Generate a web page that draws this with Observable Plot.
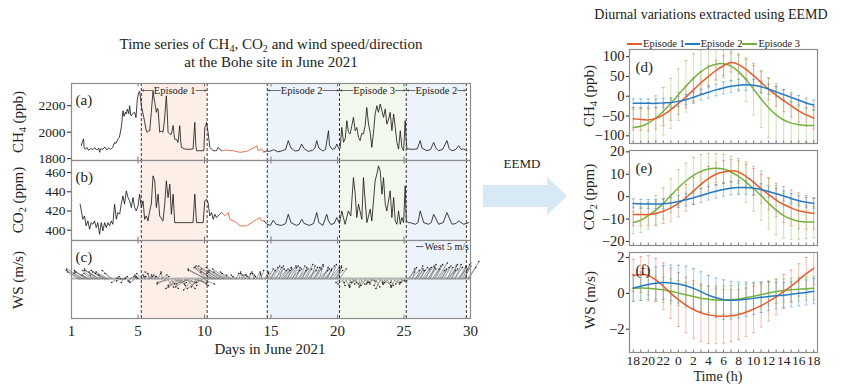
<!DOCTYPE html>
<html><head><meta charset="utf-8">
<script src="https://cdn.jsdelivr.net/npm/d3@7"></script>
<script src="https://cdn.jsdelivr.net/npm/@observablehq/plot@0.6"></script>
<style>
body{margin:0;background:#fff;}
#root{position:relative;width:841px;height:384px;overflow:hidden;font-family:"Liberation Serif",serif;color:#222;}
#root svg, #root svg text{font-family:"Liberation Serif",serif !important;}
.abs{position:absolute;white-space:nowrap;line-height:1;}
.rot{transform:translate(-50%,-50%) rotate(-90deg);}
.ctr{transform:translate(-50%,-50%);}
sub{font-size:0.68em;vertical-align:-0.3em;line-height:0}
.lg{display:inline-flex;align-items:center;font-size:10.5px;}
.lg i{display:inline-block;width:15px;height:1.6px;margin:0 1px 0 0;}
</style></head><body><div id="root"></div>
<script>
// ---------------- DATA ----------------
const dayTicks = [0, 5, 10, 15, 20, 25, 30];
const dayTickLabels = ["1", "5", "10", "15", "20", "25", "30"];
const episodeNames = ["Episode 1", "Episode 2", "Episode 3", "Episode 2"];
const episodeStart = [5.25, 14.72, 20.15, 25.17];
const episodeEnd = [10.2, 20.15, 25.17, 29.69];
const episodeLabelAt = [7.76, 17.3, 22.75, 27.43];
const episodeFill = ["#fdeee8", "#edf3fa", "#f3f8ec", "#edf3fa"];

// CH4 (ppb) [day, value]
const ch4Part1 = [[0.73,1898],[0.8,1920],[0.9,1949],[0.95,1880],[1.05,1870],[1.15,1885],[1.3,1862],[1.45,1878],[1.6,1868],[1.75,1882],[1.9,1865],[2.05,1880],[2.11,1848],[2.2,1875],[2.35,1870],[2.5,1888],[2.65,1866],[2.8,1880],[2.95,1870],[3.1,1885],[3.24,1923],[3.35,1915],[3.49,1948],[3.6,1960],[3.75,2040],[3.87,2162],[3.95,2120],[4.05,2150],[4.12,2137],[4.2,2175],[4.3,2140],[4.37,2200],[4.45,2130],[4.5,2124],[4.6,2140],[4.75,2150],[4.85,2110],[4.95,2250],[5.05,2300],[5.12,2310],[5.2,2250],[5.25,2200],[5.38,2137],[5.5,2080],[5.6,2020],[5.68,1999],[5.8,2010],[5.88,2010],[6.0,2150],[6.13,2310],[6.2,2260],[6.26,2225],[6.38,2150],[6.45,2180],[6.51,2175],[6.63,2000],[6.75,2010],[6.88,1999],[7.0,2100],[7.13,2275],[7.2,2150],[7.26,2000],[7.4,1985],[7.51,1986],[7.64,2050],[7.7,1990],[7.76,1948],[7.9,1945],[8.01,1923],[8.14,2049],[8.2,1950],[8.26,1885],[8.52,1873],[8.8,1870],[9.14,1873],[9.27,2074],[9.35,1900],[9.4,1860],[9.65,1860],[9.95,1860],[10.02,2037],[10.1,2050],[10.15,2074],[10.27,2000],[10.4,1885],[10.65,1860],[10.9,1860],[11.03,1885],[11.15,1870],[11.28,1860]];
const ch4Gap = [[11.28,1860],[11.66,1865],[12.16,1860],[12.66,1848],[13.16,1855],[13.54,1873],[13.79,1885],[13.91,1898],[14.04,1860],[14.29,1873],[14.47,1850]];
const ch4Part2 = [[14.47,1850],[14.6,1858],[14.9,1855],[15.2,1868],[15.5,1852],[15.8,1858],[16.1,1870],[16.3,1936],[16.5,1880],[16.8,1858],[17.1,1862],[17.3,1910],[17.5,1875],[17.8,1855],[18.1,1862],[18.3,1880],[18.44,1936],[18.6,1880],[18.9,1858],[19.1,1870],[19.32,2011],[19.4,1900],[19.6,1870],[19.8,1875],[19.95,1910],[20.1,1875],[20.2,1880],[20.32,2036],[20.45,1923],[20.58,1950],[20.7,2087],[20.82,2000],[20.95,1986],[21.08,2050],[21.2,2112],[21.33,2011],[21.45,2036],[21.58,1960],[21.7,1936],[21.82,1990],[21.95,1986],[22.08,2050],[22.2,2187],[22.33,2062],[22.46,1999],[22.58,1885],[22.7,1990],[22.83,2137],[22.96,2200],[23.08,2150],[23.21,2213],[23.34,2162],[23.46,2112],[23.59,2175],[23.71,2062],[23.85,2100],[23.96,2150],[24.09,2011],[24.22,2137],[24.34,2036],[24.47,1923],[24.59,1873],[24.72,2011],[24.84,1885],[24.97,1860],[25.09,2087],[25.15,1961],[25.22,1873],[25.35,1873],[25.72,1870],[26.0,1875],[26.22,1936],[26.35,1880],[26.48,1873],[26.73,1860],[27.0,1870],[27.23,1923],[27.4,1880],[27.61,1860],[27.9,1870],[28.23,1936],[28.4,1875],[28.61,1860],[28.9,1870],[29.11,1898],[29.3,1870],[29.49,1873],[29.74,1860]];

// CO2 (ppm) [day, value]
const co2Part1 = [[0.65,427.1],[0.85,411.4],[0.98,414.9],[1.1,404.5],[1.23,409.7],[1.36,401.0],[1.48,407.9],[1.61,406.2],[1.73,409.7],[1.86,402.8],[1.98,407.9],[2.11,395.8],[2.24,407.9],[2.36,399.3],[2.49,407.9],[2.61,402.8],[2.74,407.9],[2.86,404.5],[2.99,409.7],[3.11,406.2],[3.24,427.1],[3.37,411.4],[3.49,418.4],[3.62,416.6],[3.74,427.1],[3.87,435.7],[3.99,427.1],[4.12,441.0],[4.25,434.0],[4.37,430.5],[4.5,423.6],[4.62,434.0],[4.75,423.6],[4.87,420.1],[5.0,425.3],[5.12,437.5],[5.25,423.6],[5.38,430.5],[5.5,411.4],[5.63,414.9],[5.75,409.7],[5.88,420.1],[6.0,427.1],[6.13,456.6],[6.26,451.4],[6.38,423.6],[6.51,437.5],[6.63,414.9],[6.88,409.7],[7.01,427.1],[7.13,451.4],[7.26,434.0],[7.39,447.9],[7.51,416.6],[7.64,437.5],[7.76,407.9],[7.89,407.9],[8.5,407.9],[9.14,407.9],[9.27,437.5],[9.4,407.9],[9.9,407.9],[10.02,430.5],[10.15,432.3],[10.27,428.8],[10.4,414.9],[10.53,418.4],[10.65,411.4],[10.78,416.6],[10.9,413.2],[11.15,416.6],[11.28,418.4]];
const co2Gap = [[11.28,418.4],[11.53,414.9],[11.78,418.4],[11.91,411.4],[12.16,409.7],[12.41,407.9],[12.66,404.5],[13.16,404.5],[13.54,407.9],[13.92,411.4],[14.17,413.2],[14.29,409.7],[14.47,409.7]];
const co2Part2 = [[14.47,409.7],[14.7,406.2],[14.95,405],[15.17,410.4],[15.4,406],[15.8,405],[16.1,407],[16.3,416.6],[16.5,408],[16.9,405],[17.1,406],[17.31,411.4],[17.5,407],[17.9,405],[18.2,407],[18.44,418.4],[18.6,408],[18.9,405],[19.19,416.6],[19.32,409.7],[19.5,406],[19.75,407],[19.95,413.2],[20.15,407],[20.32,420.1],[20.57,406.2],[20.82,420.1],[21.0,415],[21.2,454.8],[21.33,437.5],[21.45,413.2],[21.58,427.1],[21.83,411.4],[21.95,454.8],[22.08,430.5],[22.21,407.9],[22.46,421.9],[22.58,409.7],[22.83,451.4],[22.96,458.3],[23.08,467.0],[23.21,461.8],[23.34,437.5],[23.46,454.8],[23.59,427.1],[23.71,420.1],[23.96,441.0],[24.09,413.2],[24.22,434.0],[24.34,409.7],[24.47,406.2],[24.59,420.1],[24.72,406.2],[24.84,413.2],[24.97,407.9],[25.09,446.2],[25.17,409.7],[25.35,407.9],[25.47,407.9],[25.85,406.2],[26.05,408],[26.22,420.1],[26.48,407.9],[26.85,406.2],[27.05,408],[27.23,416.6],[27.61,406.2],[27.95,408],[28.23,418.4],[28.61,406.2],[28.9,407],[29.11,409.7],[29.49,406.2],[29.87,407.9]];

// Wind sticks: one every 3 h starting at day 0.6 (u, v in m/s)
const windStart = 0.6, windStep = 0.125;
const windU = [
  -8,-10,-6,-12,-7,-9,-5,-11,-6,-8,-4,-9,-7,-11,-5,-8,-10,-6,-9,-4,-7,
  2,-3,1,-2,3,-1,2,-4,1,3,-2,2,-3,1,-1,
  -3,2,-4,1,-2,3,-1,2,-5,1,-3,2,-2,4,-1,3,
  -6,4,-8,5,-3,7,-5,6,-9,3,-4,8,-7,5,-10,4,-6,9,-3,6,-8,5,-4,7,
  -12,-9,-14,-10,-8,-13,-6,-11,-7,-15,-9,-12,-8,-10,-5,-7,-4,
  -2,2,-3,1,3,-1,2,-2,3,1,-3,2,-1,3,-2,1,2,-1,3,2,
  4,6,3,5,7,4,6,3,5,6,4,7,3,5,6,4,5,3,6,4,5,3,6,4,7,5,3,6,4,5,7,3,6,4,5,6,3,7,4,5,6,4,3,5,
  -3,2,-4,3,-2,4,-1,3,-3,2,-4,1,3,-2,4,-3,2,-1,3,-2,-5,3,-2,4,-3,1,5,-2,3,-4,2,-1,4,-3,2,-2,3,-1,2,-3,
  5,4,6,3,7,5,4,6,3,5,7,4,6,5,3,6,4,5,7,4,6,3,5,7,4,6,5,3,6,4,7,5,4,6,5,3,6,7];
const windV = [
  5,6,4,7,5,6,3,5,4,6,3,7,5,6,4,5,6,3,5,4,6,
  1,-2,2,-1,1,-2,2,0.5,-1.5,2,-1,1.5,-2,1,2,
  3,2,4,2,3,2,4,3,5,2,3,4,2,3,5,2,
  -3,-5,-2,-6,-4,-3,-5,-2,-6,-4,-3,-2,-5,-6,-3,-4,-7,-2,-5,-3,-6,-4,-2,-3,
  7,8,6,9,5,8,4,7,5,9,6,8,5,7,4,5,3,
  3,4,2,5,3,4,2,3,5,4,3,2,4,5,3,4,6,3,5,4,
  7,8,6,9,7,8,6,9,7,8,6,9,7,8,6,9,7,8,6,9,7,8,10,7,8,6,9,7,8,10,6,9,7,8,6,9,7,8,10,7,6,9,8,7,
  -2,-4,-3,-5,-2,-3,-4,-2,-5,-3,-2,-4,-3,-5,-2,-4,-3,-2,-1,-2,-3,-5,-4,-2,-6,-3,-4,-2,-5,-3,-4,-2,-3,-5,-2,-3,-1,-2,-1,-2,
  5,7,6,8,6,9,7,8,6,7,9,8,7,10,8,9,7,10,11,6,8,7,9,6,8,10,7,9,8,10,7,9,8,11,9,10,8,12];
const windRefSpeed = 5;

// Diurnal (EEMD) curves
const hours = [18,19,20,21,22,23,24,25,26,27,28,29,30,31,32,33,34,35,36,37,38,39,40,41,42];
const hourTicks = [18,20,22,24,26,28,30,32,34,36,38,40,42];
const hourTickLabels = ["18","20","22","0","2","4","6","8","10","12","14","16","18"];
const episodeLegend = ["Episode 1", "Episode 2", "Episode 3"];
const episodeColors = ["#e85b2e", "#2479c3", "#76b13f"];

const ch4Ep1 = [-57,-59,-60,-56,-47,-34,-18,-2,16,34,50,65,77,85,80,68,52,35,18,3,-11,-24,-37,-47,-55];
const ch4Ep2 = [-18,-18,-18,-18,-17,-16,-13,-9,-3,4,10,16,21,25,28,29,28,24,18,11,4,-3,-10,-17,-22];
const ch4Ep3 = [-79,-76,-68,-55,-38,-18,4,25,45,62,74,81,82,76,62,42,18,-7,-29,-47,-60,-68,-72,-74,-74];
const ch4Ep1Sd = [28,28,28,27,27,27,28,28,28,28,27,26,25,24,24,25,26,27,28,28,28,28,28,28,28];
const ch4Ep2Sd = [11,11,11,11,12,12,13,13,14,14,15,15,15,15,15,15,14,14,13,13,12,12,12,12,12];
const ch4Ep3Sd = [45,48,52,56,60,63,65,65,62,55,45,38,35,38,45,55,65,72,75,72,65,55,48,42,38];

const co2Ep1 = [-8,-8,-8,-7.5,-6.5,-5,-3,-0.5,2.5,5.5,8,10,11,11.5,11,9,6.5,3.5,1,-1.5,-3.5,-5,-6.3,-7,-7.5];
const co2Ep2 = [-3,-3.2,-3.3,-3.3,-3.2,-2.8,-2.2,-1.4,-0.5,0.5,1.5,2.4,3.2,3.8,4.1,4.1,3.8,3.2,2.3,1.3,0.3,-0.8,-1.8,-2.5,-3];
const co2Ep3 = [-11.5,-10.5,-8.5,-6,-3,0.5,4,7,9.5,11.3,12.3,12.7,12.3,11,9,6.5,3.5,0.5,-3,-6,-8.5,-10,-11,-11.3,-11.3];
const co2Ep1Sd = [5,5,5,5.5,5.5,6,6,6,6,5.5,5.5,5,5,5,5,5.5,6,6.5,7,7.5,8,8,8,7.5,7];
const co2Ep2Sd = [2,2,2,2,2.2,2.4,2.6,2.8,3,3,3,3,3,3,3,3,2.8,2.6,2.5,2.4,2.3,2.2,2.2,2.2,2.2];
const co2Ep3Sd = [5,5.5,6,6.5,7,7.5,8,8,8,7.5,7,6.5,6.5,7,8,9,10,11,11.5,11,10,9,8,7.5,7];

const wsEp1 = [1.0,1.05,1.0,0.75,0.4,0.0,-0.35,-0.65,-0.9,-1.08,-1.2,-1.26,-1.28,-1.25,-1.18,-1.05,-0.88,-0.68,-0.45,-0.2,0.1,0.4,0.75,1.1,1.4];
const wsEp2 = [0.3,0.4,0.5,0.57,0.6,0.58,0.52,0.42,0.28,0.1,-0.1,-0.25,-0.35,-0.38,-0.37,-0.33,-0.28,-0.22,-0.17,-0.13,-0.1,-0.05,0,0.05,0.12];
const wsEp3 = [0.28,0.3,0.28,0.25,0.2,0.12,0.02,-0.08,-0.18,-0.27,-0.33,-0.37,-0.38,-0.36,-0.31,-0.24,-0.16,-0.07,0.02,0.1,0.16,0.2,0.23,0.26,0.28];
const wsEp1Sd = [0.9,1.0,1.1,1.2,1.3,1.4,1.5,1.55,1.6,1.6,1.6,1.55,1.5,1.45,1.4,1.35,1.3,1.2,1.1,1.0,0.95,0.9,0.9,0.9,0.9];
const wsEp2Sd = [0.75,0.8,0.85,0.9,0.95,1.0,1.05,1.1,1.1,1.1,1.1,1.1,1.1,1.05,1.0,0.95,0.9,0.85,0.8,0.75,0.7,0.7,0.7,0.7,0.7];
const wsEp3Sd = [0.7,0.7,0.7,0.7,0.7,0.7,0.7,0.7,0.7,0.72,0.75,0.78,0.8,0.8,0.78,0.75,0.72,0.7,0.68,0.66,0.65,0.65,0.65,0.65,0.65];

// ---------------- DRAWING ----------------
const root = document.getElementById("root");
const num = d => (d < 0 ? "\u2212" : "") + Math.abs(d);
const styleStr = size => `background:transparent;overflow:visible;font-family:'Liberation Serif',serif;font-size:${size}px;color:#222;`;
function place(node, left, top) {
  node.style.position = "absolute"; node.style.left = left + "px"; node.style.top = top + "px";
  root.appendChild(node);
}
function html(str, cls, left, top, size) {
  const d = document.createElement("div");
  d.className = "abs " + cls; d.innerHTML = str;
  d.style.left = left + "px"; d.style.top = top + "px"; d.style.fontSize = size + "px";
  root.appendChild(d);
  return d;
}
const episodes = episodeNames.map((name, i) => ({name, x1: episodeStart[i], x2: episodeEnd[i], at: episodeLabelAt[i], fill: episodeFill[i]}));
const boundaries = Array.from(new Set([...episodeStart, ...episodeEnd]));

function leftPanel({top, height, yDomain, yTicks, marks, xAxis, tag}) {
  const span = yDomain[1] - yDomain[0];
  const tl = span * 3.5 / height;
  const p = Plot.plot({
    width: 480, height: height + (xAxis ? 40 : 0),
    marginLeft: 71, marginRight: 10, marginTop: 0, marginBottom: xAxis ? 40 : 0,
    style: styleStr(xAxis ? 15 : 13.5),
    x: {domain: [0, 30], axis: xAxis ? "bottom" : null, ticks: dayTicks, tickFormat: d => dayTickLabels[dayTicks.indexOf(d)], tickSize: 0, tickPadding: 7, label: null},
    y: {domain: yDomain, axis: yTicks ? "left" : null, ticks: yTicks || [], tickFormat: num, tickSize: 4, tickPadding: 2, label: null},
    marks: [
      Plot.rect(episodes, {x1: "x1", x2: "x2", fill: "fill"}),
      ...marks,
      Plot.ruleX(boundaries, {stroke: "#222", strokeWidth: 0.9, strokeDasharray: "3,2"}),
      Plot.ruleX(dayTicks.slice(1), {x: d => d, y1: yDomain[1], y2: yDomain[1] - tl, stroke: "#777"}),
      Plot.ruleX(dayTicks.slice(1), {x: d => d, y1: yDomain[0], y2: yDomain[0] + tl, stroke: "#777"}),
      Plot.text([tag], {frameAnchor: "top-left", dx: 4, dy: 11, fontSize: 15, fill: "#222"}),
      Plot.frame({stroke: "#8c8c8c", strokeWidth: 1.2})
    ]
  });
  place(p, 0, top);
}

// Panel (a)
const aDom = [1786, 2368];
const aLabelY = aDom[1] - 7 * (aDom[1] - aDom[0]) / 77;
leftPanel({
  top: 83, height: 77, yDomain: aDom, yTicks: [1800, 2000, 2200], tag: "(a)",
  marks: [
    Plot.line(ch4Part1, {x: d => d[0], y: d => d[1], stroke: "#111", strokeWidth: 0.8}),
    Plot.line(ch4Gap, {x: d => d[0], y: d => d[1], stroke: "#e8643a", strokeWidth: 0.9}),
    Plot.line(ch4Part2, {x: d => d[0], y: d => d[1], stroke: "#111", strokeWidth: 0.8}),
    Plot.text(episodes, {x: "at", y: () => aLabelY, text: "name", fontSize: 10.5, fill: "#222"}),
    Plot.arrow(episodes, {x1: d => d.at - 1.6, x2: d => d.x1 + 0.08, y1: () => aLabelY, y2: () => aLabelY, stroke: "#333", strokeWidth: 0.7, headLength: 3, headAngle: 50}),
    Plot.arrow(episodes, {x1: d => d.at + 1.6, x2: d => d.x2 - 0.08, y1: () => aLabelY, y2: () => aLabelY, stroke: "#333", strokeWidth: 0.7, headLength: 3, headAngle: 50})
  ]
});

// Panel (b)
leftPanel({
  top: 160, height: 80, yDomain: [389.3, 472.6], yTicks: [400, 420, 440, 460], tag: "(b)",
  marks: [
    Plot.line(co2Part1, {x: d => d[0], y: d => d[1], stroke: "#111", strokeWidth: 0.8}),
    Plot.line(co2Gap, {x: d => d[0], y: d => d[1], stroke: "#e8643a", strokeWidth: 0.9}),
    Plot.line(co2Part2, {x: d => d[0], y: d => d[1], stroke: "#111", strokeWidth: 0.8})
  ]
});

// Panel (c) wind sticks
const cDom = [-26, 26];
const pxPerMs = 77 / (cDom[1] - cDom[0]);
const daysPerMs = pxPerMs / ((470 - 71) / 30);
const sticks = windU.map((u, i) => ({t: windStart + i * windStep, u, v: windV[i]}));
const refY = cDom[1] - 6 / pxPerMs;
leftPanel({
  top: 240, height: 78, yDomain: cDom, yTicks: null, xAxis: true, tag: "(c)",
  marks: [
    Plot.ruleY([0], {stroke: "#b5b5b5", strokeWidth: 2, dy: -1}),
    Plot.link(sticks, {x1: "t", y1: () => 0, x2: d => d.t + d.u * daysPerMs, y2: "v", stroke: "#6e6e6e", strokeWidth: 0.65}),
    Plot.dot(sticks, {x: d => d.t + d.u * daysPerMs, y: "v", r: 0.8, fill: "#222"}),
    Plot.link([windRefSpeed], {x1: () => 25.9, x2: d => 25.9 + d * daysPerMs, y1: () => refY, y2: () => refY, stroke: "#333", strokeWidth: 0.8}),
    Plot.text([windRefSpeed], {x: d => 25.9 + d * daysPerMs + 0.1, y: () => refY, text: d => `West ${d} m/s`, textAnchor: "start", fontSize: 10, fill: "#222"})
  ]
});

// Right panels
function series(means, sds) {
  return means.map((m, i) => ({h: hours[i], m, s: sds[i]}));
}
function rightPanel({top, height, yDomain, yTicks, data, xAxis, tag}) {
  const span = yDomain[1] - yDomain[0];
  const tl = span * 2.5 / height;
  const marks = [];
  data.forEach((rows, k) => {
    const c = episodeColors[k];
    marks.push(
      Plot.ruleX(rows, {x: "h", y1: d => d.m - d.s, y2: d => d.m + d.s, stroke: c, strokeOpacity: 0.42, strokeWidth: 0.9, clip: true}),
      Plot.link(rows, {x1: d => d.h - 0.2, x2: d => d.h + 0.2, y1: d => d.m + d.s, y2: d => d.m + d.s, stroke: c, strokeOpacity: 0.55, strokeWidth: 0.9, clip: true}),
      Plot.link(rows, {x1: d => d.h - 0.2, x2: d => d.h + 0.2, y1: d => d.m - d.s, y2: d => d.m - d.s, stroke: c, strokeOpacity: 0.55, strokeWidth: 0.9, clip: true})
    );
  });
  [2, 0, 1].forEach(k => marks.push(Plot.line(data[k], {x: "h", y: "m", stroke: episodeColors[k], strokeWidth: 1.5, curve: "natural"})));
  const p = Plot.plot({
    width: 270, height: height + (xAxis ? 24 : 0),
    marginLeft: 69, marginRight: 13, marginTop: 0, marginBottom: xAxis ? 24 : 0,
    style: styleStr(14.5),
    x: {domain: [17.5, 42.5], axis: xAxis ? "bottom" : null, ticks: hourTicks, tickFormat: d => hourTickLabels[hourTicks.indexOf(d)], tickSize: 0, tickPadding: 3, label: null},
    y: {domain: yDomain, ticks: yTicks, tickFormat: num, tickSize: 3, tickPadding: 2, label: null},
    marks: [
      ...marks,
      Plot.ruleX(hours, {x: d => d, y1: yDomain[0], y2: yDomain[0] + tl, stroke: "#777"}),
      Plot.text([tag], {frameAnchor: "top-left", dx: 6, dy: 12, fontSize: 15, fill: "#222"}),
      Plot.frame({stroke: "#8c8c8c", strokeWidth: 1.2})
    ]
  });
  if (xAxis) p.querySelectorAll("g[aria-label='x-axis'] text, g[aria-label='x-axis tick label'] text").forEach(t => t.style.fontSize = "13.5px");
  place(p, 560, top);
}
rightPanel({top: 49, height: 94, yDomain: [-119.4, 118], yTicks: [-100, -50, 0, 50, 100], tag: "(d)",
  data: [series(ch4Ep1, ch4Ep1Sd), series(ch4Ep2, ch4Ep2Sd), series(ch4Ep3, ch4Ep3Sd)]});
rightPanel({top: 150, height: 95, yDomain: [-21.8, 20.6], yTicks: [-20, -10, 0, 10, 20], tag: "(e)",
  data: [series(co2Ep1, co2Ep1Sd), series(co2Ep2, co2Ep2Sd), series(co2Ep3, co2Ep3Sd)]});
rightPanel({top: 252, height: 100, yDomain: [-3.3, 2.28], yTicks: [-2, 0, 2], tag: "(f)", xAxis: true,
  data: [series(wsEp1, wsEp1Sd), series(wsEp2, wsEp2Sd), series(wsEp3, wsEp3Sd)]});

// Titles, labels, legend, arrow
html("Time series of CH<sub>4</sub>, CO<sub>2</sub> and wind speed/direction", "ctr", 271, 44, 15);
html("at the Bohe site in June 2021", "ctr", 271, 62, 15);
html("CH<sub>4</sub> (ppb)", "rot", 18, 122, 15);
html("CO<sub>2</sub> (ppm)", "rot", 18, 200, 15);
html("WS (m/s)", "rot", 18, 280, 15);
html("Days in June 2021", "ctr", 270, 349, 15);
html("Diurnal variations extracted using EEMD", "ctr", 711, 15, 14);
html("CH<sub>4</sub> (ppb)", "rot", 589, 96, 15);
html("CO<sub>2</sub> (ppm)", "rot", 589, 197, 15);
html("WS (m/s)", "rot", 590, 300, 15);
html("Time (h)", "ctr", 718, 377, 14);
html("EEMD", "ctr", 522, 163, 13);

const lg = document.createElement("div");
lg.className = "abs"; lg.style.left = "627px"; lg.style.top = "32px";
lg.innerHTML = episodeLegend.map((n, i) => `<span class="lg"><i style="background:${episodeColors[i]}"></i>${n}</span>`).join("");
root.appendChild(lg);

const ns = "http://www.w3.org/2000/svg";
const arr = document.createElementNS(ns, "svg");
arr.setAttribute("width", 841); arr.setAttribute("height", 384);
arr.innerHTML = '<polygon points="483,185 547,185 547,177 567,196 547,215 547,207 483,207" fill="#d8e9f6"/>';
place(arr, 0, 0);
</script></body></html>
